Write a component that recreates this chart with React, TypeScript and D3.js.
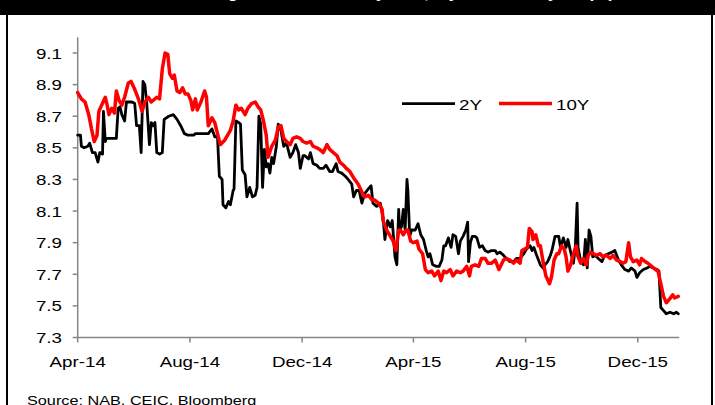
import React from "react";
import * as d3 from "d3";

// 2-year government bond yield (%)
const twoYDates = [
  "2014-04-01","2014-04-04","2014-04-05","2014-04-08","2014-04-12","2014-04-14","2014-04-17","2014-04-20","2014-04-23","2014-04-25",
  "2014-04-28","2014-04-29","2014-05-01","2014-05-02","2014-05-08","2014-05-13","2014-05-15","2014-05-17","2014-05-19","2014-05-22",
  "2014-05-24","2014-05-30","2014-06-02","2014-06-04","2014-06-07","2014-06-09","2014-06-11","2014-06-13","2014-06-15","2014-06-18",
  "2014-06-20","2014-06-22","2014-06-24","2014-06-26","2014-06-29","2014-07-02","2014-07-04","2014-07-09","2014-07-14","2014-07-18",
  "2014-07-22","2014-07-26","2014-07-30","2014-08-05","2014-08-07","2014-08-14","2014-08-21","2014-08-25","2014-08-28","2014-08-31",
  "2014-09-02","2014-09-05","2014-09-06","2014-09-09","2014-09-12","2014-09-14","2014-09-17","2014-09-18","2014-09-20","2014-09-23",
  "2014-09-25","2014-09-27","2014-09-30","2014-10-02","2014-10-05","2014-10-08","2014-10-11","2014-10-13","2014-10-15","2014-10-17",
  "2014-10-19","2014-10-21","2014-10-23","2014-10-25","2014-10-27","2014-10-29","2014-10-31","2014-11-03","2014-11-05","2014-11-08",
  "2014-11-11","2014-11-14","2014-11-18","2014-11-21","2014-11-24","2014-11-27","2014-11-29","2014-12-02","2014-12-04","2014-12-08",
  "2014-12-10","2014-12-13","2014-12-17","2014-12-20","2014-12-24","2014-12-27","2014-12-31","2015-01-03","2015-01-07","2015-01-09",
  "2015-01-13","2015-01-17","2015-01-20","2015-01-24","2015-01-26","2015-01-29","2015-02-01","2015-02-04","2015-02-07","2015-02-11",
  "2015-02-14","2015-02-16","2015-02-20","2015-02-24","2015-02-27","2015-03-01","2015-03-04","2015-03-07","2015-03-09","2015-03-12",
  "2015-03-14","2015-03-16","2015-03-17","2015-03-19","2015-03-21","2015-03-23","2015-03-25","2015-03-26","2015-03-28","2015-03-30",
  "2015-04-03","2015-04-06","2015-04-09","2015-04-12","2015-04-15","2015-04-17","2015-04-19","2015-04-22","2015-04-26","2015-04-29",
  "2015-05-02","2015-05-04","2015-05-06","2015-05-09","2015-05-12","2015-05-14","2015-05-17","2015-05-20","2015-05-22","2015-05-25",
  "2015-05-28","2015-05-30","2015-05-31","2015-06-02","2015-06-04","2015-06-07","2015-06-09","2015-06-12","2015-06-15","2015-06-18",
  "2015-06-21","2015-06-25","2015-06-29","2015-07-01","2015-07-04","2015-07-08","2015-07-11","2015-07-15","2015-07-19","2015-07-22",
  "2015-07-26","2015-07-30","2015-08-02","2015-08-06","2015-08-08","2015-08-10","2015-08-13","2015-08-17","2015-08-20","2015-08-22",
  "2015-08-25","2015-08-28","2015-08-30","2015-09-02","2015-09-06","2015-09-08","2015-09-11","2015-09-14","2015-09-16","2015-09-19",
  "2015-09-22","2015-09-24","2015-09-26","2015-09-27","2015-09-30","2015-10-03","2015-10-05","2015-10-07","2015-10-09","2015-10-11",
  "2015-10-13","2015-10-16","2015-10-19","2015-10-23","2015-10-26","2015-10-30","2015-11-03","2015-11-06","2015-11-10","2015-11-13",
  "2015-11-17","2015-11-21","2015-11-24","2015-11-28","2015-11-30","2015-12-03","2015-12-07","2015-12-11","2015-12-14","2015-12-18",
  "2015-12-22","2015-12-24","2015-12-26","2015-12-29","2016-01-01","2016-01-05","2016-01-09","2016-01-12","2016-01-14",
];
const twoYValues = [
  8.58, 8.58, 8.51, 8.50, 8.51, 8.53, 8.47, 8.47, 8.41, 8.47,
  8.46, 8.73, 8.54, 8.56, 8.56, 8.56, 8.75, 8.76, 8.71, 8.67,
  8.79, 8.79, 8.78, 8.64, 8.64, 8.47, 8.92, 8.90, 8.79, 8.52,
  8.66, 8.64, 8.66, 8.47, 8.46, 8.47, 8.68, 8.70, 8.71, 8.68,
  8.64, 8.59, 8.58, 8.58, 8.59, 8.59, 8.59, 8.62, 8.57, 8.57,
  8.32, 8.30, 8.14, 8.12, 8.16, 8.14, 8.23, 8.24, 8.67, 8.66,
  8.65, 8.36, 8.33, 8.19, 8.25, 8.19, 8.20, 8.25, 8.70, 8.65,
  8.25, 8.49, 8.38, 8.40, 8.34, 8.44, 8.40, 8.51, 8.65, 8.61,
  8.51, 8.53, 8.44, 8.47, 8.52, 8.47, 8.37, 8.45, 8.45, 8.43,
  8.47, 8.40, 8.39, 8.37, 8.37, 8.39, 8.35, 8.35, 8.40, 8.35,
  8.34, 8.32, 8.30, 8.27, 8.19, 8.23, 8.23, 8.15, 8.21, 8.24,
  8.26, 8.15, 8.13, 8.15, 8.06, 7.92, 8.04, 8.00, 8.04, 7.81,
  7.76, 8.11, 7.98, 8.00, 8.11, 7.98, 8.30, 8.23, 7.94, 7.98,
  7.98, 8.02, 7.95, 7.92, 7.85, 7.81, 7.83, 7.76, 7.75, 7.75,
  7.79, 7.88, 7.88, 7.93, 7.87, 7.95, 7.94, 7.83, 7.91, 7.94,
  7.98, 8.03, 7.78, 7.90, 7.94, 7.94, 7.93, 7.87, 7.88, 7.85,
  7.84, 7.85, 7.85, 7.83, 7.84, 7.82, 7.80, 7.78, 7.78, 7.80,
  7.80, 7.83, 7.86, 7.88, 7.85, 7.87, 7.82, 7.76, 7.74, 7.76,
  7.78, 7.82, 7.86, 7.94, 7.94, 7.87, 7.93, 7.87, 7.92, 7.84,
  7.77, 7.87, 8.15, 7.87, 7.78, 7.76, 7.92, 7.74, 7.98, 7.94,
  7.81, 7.82, 7.80, 7.78, 7.82, 7.83, 7.84, 7.85, 7.79, 7.76,
  7.73, 7.72, 7.74, 7.72, 7.68, 7.71, 7.73, 7.74, 7.75, 7.74,
  7.73, 7.72, 7.49, 7.47, 7.45, 7.46, 7.45, 7.46, 7.45,
];

// 10-year government bond yield (%)
const tenYDates = [
  "2014-04-01","2014-04-05","2014-04-09","2014-04-13","2014-04-16","2014-04-19","2014-04-22","2014-04-24","2014-04-27","2014-05-01",
  "2014-05-03","2014-05-05","2014-05-08","2014-05-11","2014-05-13","2014-05-16","2014-05-19","2014-05-22","2014-05-26","2014-05-29",
  "2014-06-02","2014-06-06","2014-06-10","2014-06-13","2014-06-17","2014-06-20","2014-06-26","2014-06-29","2014-07-02","2014-07-05",
  "2014-07-08","2014-07-10","2014-07-13","2014-07-15","2014-07-18","2014-07-21","2014-07-24","2014-07-27","2014-07-30","2014-08-02",
  "2014-08-04","2014-08-07","2014-08-09","2014-08-13","2014-08-17","2014-08-19","2014-08-21","2014-08-25","2014-08-28","2014-09-03",
  "2014-09-08","2014-09-14","2014-09-17","2014-09-20","2014-09-23","2014-09-26","2014-09-30","2014-10-03","2014-10-07","2014-10-11",
  "2014-10-14","2014-10-17","2014-10-20","2014-10-23","2014-10-25","2014-10-29","2014-11-02","2014-11-05","2014-11-08","2014-11-11",
  "2014-11-14","2014-11-18","2014-11-21","2014-11-25","2014-11-29","2014-12-02","2014-12-06","2014-12-10","2014-12-13","2014-12-17",
  "2014-12-20","2014-12-24","2014-12-28","2014-12-31","2015-01-04","2015-01-08","2015-01-11","2015-01-15","2015-01-18","2015-01-22",
  "2015-01-26","2015-01-31","2015-02-04","2015-02-07","2015-02-11","2015-02-15","2015-02-18","2015-02-22","2015-02-26","2015-02-27",
  "2015-03-03","2015-03-07","2015-03-10","2015-03-13","2015-03-16","2015-03-18","2015-03-21","2015-03-24","2015-03-26","2015-03-29",
  "2015-04-01","2015-04-05","2015-04-07","2015-04-11","2015-04-14","2015-04-17","2015-04-21","2015-04-24","2015-04-28","2015-05-01",
  "2015-05-04","2015-05-07","2015-05-11","2015-05-14","2015-05-18","2015-05-22","2015-05-25","2015-05-29","2015-06-01","2015-06-03",
  "2015-06-07","2015-06-11","2015-06-14","2015-06-18","2015-06-21","2015-06-25","2015-06-29","2015-07-03","2015-07-08","2015-07-11",
  "2015-07-15","2015-07-19","2015-07-22","2015-07-26","2015-07-28","2015-07-31","2015-08-03","2015-08-05","2015-08-08","2015-08-09",
  "2015-08-12","2015-08-15","2015-08-17","2015-08-20","2015-08-23","2015-08-27","2015-08-29","2015-09-01","2015-09-04","2015-09-06",
  "2015-09-09","2015-09-12","2015-09-14","2015-09-16","2015-09-19","2015-09-22","2015-09-25","2015-09-27","2015-09-30","2015-10-03",
  "2015-10-06","2015-10-08","2015-10-11","2015-10-14","2015-10-17","2015-10-21","2015-10-24","2015-10-28","2015-11-01","2015-11-04",
  "2015-11-08","2015-11-12","2015-11-15","2015-11-18","2015-11-21","2015-11-23","2015-11-26","2015-11-30","2015-12-03","2015-12-05",
  "2015-12-09","2015-12-12","2015-12-16","2015-12-20","2015-12-23","2015-12-26","2015-12-29","2016-01-01","2016-01-04","2016-01-08",
  "2016-01-10","2016-01-14",
];
const tenYValues = [
  8.85, 8.81, 8.79, 8.71, 8.62, 8.54, 8.58, 8.73, 8.77, 8.82,
  8.77, 8.71, 8.75, 8.72, 8.86, 8.80, 8.77, 8.82, 8.91, 8.92,
  8.87, 8.81, 8.73, 8.79, 8.82, 8.79, 8.82, 8.81, 9.00, 9.10,
  9.09, 8.97, 8.94, 8.96, 8.86, 8.85, 8.88, 8.84, 8.84, 8.80,
  8.74, 8.81, 8.74, 8.79, 8.86, 8.82, 8.64, 8.69, 8.66, 8.52,
  8.55, 8.61, 8.67, 8.77, 8.74, 8.75, 8.71, 8.75, 8.78, 8.79,
  8.76, 8.74, 8.67, 8.58, 8.44, 8.51, 8.55, 8.63, 8.64, 8.56,
  8.54, 8.52, 8.56, 8.57, 8.56, 8.54, 8.53, 8.54, 8.51, 8.50,
  8.49, 8.47, 8.52, 8.49, 8.47, 8.45, 8.41, 8.39, 8.37, 8.35,
  8.31, 8.27, 8.22, 8.19, 8.20, 8.17, 8.17, 8.15, 8.11, 8.04,
  7.98, 7.94, 7.91, 7.85, 7.98, 7.98, 7.95, 7.98, 7.98, 7.91,
  7.90, 7.91, 7.86, 7.83, 7.73, 7.71, 7.72, 7.69, 7.72, 7.66,
  7.72, 7.71, 7.73, 7.69, 7.72, 7.71, 7.72, 7.75, 7.69, 7.75,
  7.76, 7.75, 7.80, 7.80, 7.77, 7.77, 7.79, 7.73, 7.79, 7.80,
  7.79, 7.77, 7.79, 7.77, 7.85, 7.86, 7.87, 7.99, 7.97, 7.92,
  7.95, 7.88, 7.88, 7.78, 7.69, 7.64, 7.68, 7.79, 7.83, 7.83,
  7.88, 7.86, 7.81, 7.72, 7.76, 7.83, 7.88, 7.81, 7.77, 7.80,
  7.76, 7.82, 7.84, 7.83, 7.82, 7.83, 7.81, 7.82, 7.80, 7.82,
  7.79, 7.78, 7.77, 7.78, 7.90, 7.81, 7.78, 7.79, 7.76, 7.80,
  7.78, 7.77, 7.75, 7.73, 7.72, 7.64, 7.56, 7.52, 7.54, 7.57,
  7.55, 7.56,
];

const seriesNames = ["2Y", "10Y"];
const seriesColors = ["#000000", "#ff0000"];
const yTicks = [7.3, 7.5, 7.7, 7.9, 8.1, 8.3, 8.5, 8.7, 8.9, 9.1];
const xTicks = ["2014-04-01", "2014-08-01", "2014-12-01", "2015-04-01", "2015-08-01", "2015-12-01"];
const xDomain = ["2014-04-01", "2016-01-15"];
const yDomain = [7.3, 9.2];
const sourceNote = "Source: NAB, CEIC, Bloomberg";
const headerTitle = "Chart 5: Chinese government bond yields, 2-year and 10-year (%)";

const FONT = "Arial, 'Liberation Sans', Helvetica, sans-serif";
const STRETCH = 1.25;
const AXIS_GREY = "#868686";

export default function App() {
  const parse = d3.utcParse("%Y-%m-%d");
  const left = 77.7;
  const right = 679.2;
  const top = 37.2;
  const bottom = 337.5;

  const x = d3.scaleUtc().domain(xDomain.map((d) => parse(d) as Date)).range([left, right]);
  const y = d3.scaleLinear().domain(yDomain).range([bottom, top]);
  const fmt = d3.utcFormat("%b-%y");

  const line = d3
    .line<[Date, number]>()
    .x((d) => x(d[0]))
    .y((d) => y(d[1]));

  const twoY: [Date, number][] = twoYDates.map((d, i) => [parse(d) as Date, twoYValues[i]]);
  const tenY: [Date, number][] = tenYDates.map((d, i) => [parse(d) as Date, tenYValues[i]]);

  const series = [
    { name: seriesNames[0], color: seriesColors[0], data: twoY, width: 2.8 },
    { name: seriesNames[1], color: seriesColors[1], data: tenY, width: 3.5 },
  ];

  const legendX = [402, 499];
  const legendY = 103.6;

  return (
    <svg
      width={715}
      height={405}
      style={{ position: "absolute", left: 0, top: 0, background: "#fff" }}
      fontFamily={FONT}
    >
      {/* header bar; its title sits above the visible area with only the descenders showing */}
      <rect x={0} y={0} width={715} height={15} fill="#000" />
      <text x={88} y={-2.5} fill="#fff" fontSize={17} fontWeight="bold">
        {headerTitle}
      </text>
      {/* frame */}
      <line x1={7} y1={14} x2={7} y2={405} stroke="#000" strokeWidth={2} />
      <line x1={712} y1={14} x2={712} y2={405} stroke="#000" strokeWidth={2} />

      {/* y axis */}
      <line x1={left} y1={top} x2={left} y2={bottom} stroke={AXIS_GREY} strokeWidth={1.5} />
      {yTicks.map((t) => (
        <g key={t}>
          <line x1={left - 5} x2={left} y1={y(t)} y2={y(t)} stroke={AXIS_GREY} strokeWidth={1.5} />
          <text
            transform={`translate(${62},${y(t) + 5.5}) scale(${STRETCH},1)`}
            textAnchor="end"
            fontSize={15}
            fill="#000"
          >
            {t.toFixed(1)}
          </text>
        </g>
      ))}

      {/* x axis */}
      <line x1={left} y1={bottom} x2={right} y2={bottom} stroke={AXIS_GREY} strokeWidth={1.5} />
      {xTicks.map((t) => {
        const d = parse(t) as Date;
        const px = x(d);
        return (
          <g key={t}>
            <line x1={px} x2={px} y1={bottom} y2={bottom + 5} stroke={AXIS_GREY} strokeWidth={1.5} />
            <text
              transform={`translate(${px},${366.5}) scale(${STRETCH},1)`}
              textAnchor="middle"
              fontSize={15}
              fill="#000"
            >
              {fmt(d)}
            </text>
          </g>
        );
      })}

      {/* series */}
      {series.map((s) => (
        <path
          key={s.name}
          d={line(s.data) || ""}
          fill="none"
          stroke={s.color}
          strokeWidth={s.width}
          strokeLinejoin="round"
          strokeLinecap="round"
        />
      ))}

      {/* legend */}
      {series.map((s, i) => (
        <g key={`lg-${s.name}`}>
          <line
            x1={legendX[i]}
            x2={legendX[i] + 53}
            y1={legendY}
            y2={legendY}
            stroke={s.color}
            strokeWidth={s.width}
          />
          <text
            transform={`translate(${legendX[i] + 57},${legendY + 6.5}) scale(${STRETCH},1)`}
            fontSize={15}
            fill="#000"
          >
            {s.name}
          </text>
        </g>
      ))}

      {/* source note */}
      <text transform={`translate(27,404.5) scale(${STRETCH},1)`} fontSize={13} fill="#000">
        {sourceNote}
      </text>
    </svg>
  );
}
